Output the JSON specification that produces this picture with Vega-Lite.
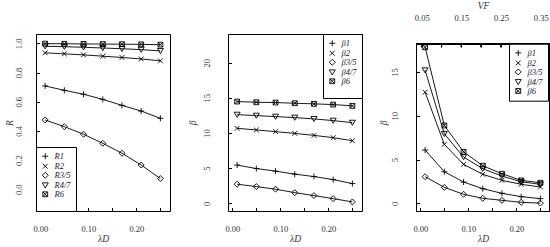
{
  "$schema": "https://vega.github.io/schema/vega-lite/v6.json",
  "padding": {"left": 4, "top": 0, "right": 0, "bottom": 0},
  "spacing": 15,
  "background": "white",
  "datasets": {
    "R": [
      {"series": "R1", "lambdaD": 0.01, "R": 0.708}, {"series": "R1", "lambdaD": 0.05, "R": 0.678}, {"series": "R1", "lambdaD": 0.09, "R": 0.651}, {"series": "R1", "lambdaD": 0.13, "R": 0.616}, {"series": "R1", "lambdaD": 0.17, "R": 0.575}, {"series": "R1", "lambdaD": 0.21, "R": 0.536}, {"series": "R1", "lambdaD": 0.25, "R": 0.486},
      {"series": "R2", "lambdaD": 0.01, "R": 0.935}, {"series": "R2", "lambdaD": 0.05, "R": 0.928}, {"series": "R2", "lambdaD": 0.09, "R": 0.921}, {"series": "R2", "lambdaD": 0.13, "R": 0.912}, {"series": "R2", "lambdaD": 0.17, "R": 0.903}, {"series": "R2", "lambdaD": 0.21, "R": 0.893}, {"series": "R2", "lambdaD": 0.25, "R": 0.88},
      {"series": "R3/5", "lambdaD": 0.01, "R": 0.475}, {"series": "R3/5", "lambdaD": 0.05, "R": 0.429}, {"series": "R3/5", "lambdaD": 0.09, "R": 0.377}, {"series": "R3/5", "lambdaD": 0.13, "R": 0.315}, {"series": "R3/5", "lambdaD": 0.17, "R": 0.247}, {"series": "R3/5", "lambdaD": 0.21, "R": 0.166}, {"series": "R3/5", "lambdaD": 0.25, "R": 0.073},
      {"series": "R4/7", "lambdaD": 0.01, "R": 0.98}, {"series": "R4/7", "lambdaD": 0.05, "R": 0.977}, {"series": "R4/7", "lambdaD": 0.09, "R": 0.973}, {"series": "R4/7", "lambdaD": 0.13, "R": 0.968}, {"series": "R4/7", "lambdaD": 0.17, "R": 0.963}, {"series": "R4/7", "lambdaD": 0.21, "R": 0.957}, {"series": "R4/7", "lambdaD": 0.25, "R": 0.948},
      {"series": "R6", "lambdaD": 0.01, "R": 0.998}, {"series": "R6", "lambdaD": 0.05, "R": 0.997}, {"series": "R6", "lambdaD": 0.09, "R": 0.996}, {"series": "R6", "lambdaD": 0.13, "R": 0.995}, {"series": "R6", "lambdaD": 0.17, "R": 0.994}, {"series": "R6", "lambdaD": 0.21, "R": 0.993}, {"series": "R6", "lambdaD": 0.25, "R": 0.991}
    ],
    "B2": [
      {"series": "β1", "lambdaD": 0.01, "beta": 5.43}, {"series": "β1", "lambdaD": 0.05, "beta": 4.94}, {"series": "β1", "lambdaD": 0.09, "beta": 4.57}, {"series": "β1", "lambdaD": 0.13, "beta": 4.14}, {"series": "β1", "lambdaD": 0.17, "beta": 3.8}, {"series": "β1", "lambdaD": 0.21, "beta": 3.37}, {"series": "β1", "lambdaD": 0.25, "beta": 2.8},
      {"series": "β2", "lambdaD": 0.01, "beta": 10.66}, {"series": "β2", "lambdaD": 0.05, "beta": 10.43}, {"series": "β2", "lambdaD": 0.09, "beta": 10.19}, {"series": "β2", "lambdaD": 0.13, "beta": 9.94}, {"series": "β2", "lambdaD": 0.17, "beta": 9.66}, {"series": "β2", "lambdaD": 0.21, "beta": 9.33}, {"series": "β2", "lambdaD": 0.25, "beta": 8.9},
      {"series": "β3/5", "lambdaD": 0.01, "beta": 2.71}, {"series": "β3/5", "lambdaD": 0.05, "beta": 2.37}, {"series": "β3/5", "lambdaD": 0.09, "beta": 2.0}, {"series": "β3/5", "lambdaD": 0.13, "beta": 1.51}, {"series": "β3/5", "lambdaD": 0.17, "beta": 1.09}, {"series": "β3/5", "lambdaD": 0.21, "beta": 0.66}, {"series": "β3/5", "lambdaD": 0.25, "beta": 0.19},
      {"series": "β4/7", "lambdaD": 0.01, "beta": 12.61}, {"series": "β4/7", "lambdaD": 0.05, "beta": 12.47}, {"series": "β4/7", "lambdaD": 0.09, "beta": 12.33}, {"series": "β4/7", "lambdaD": 0.13, "beta": 12.19}, {"series": "β4/7", "lambdaD": 0.17, "beta": 12.0}, {"series": "β4/7", "lambdaD": 0.21, "beta": 11.76}, {"series": "β4/7", "lambdaD": 0.25, "beta": 11.47},
      {"series": "β6", "lambdaD": 0.01, "beta": 14.47}, {"series": "β6", "lambdaD": 0.05, "beta": 14.37}, {"series": "β6", "lambdaD": 0.09, "beta": 14.33}, {"series": "β6", "lambdaD": 0.13, "beta": 14.23}, {"series": "β6", "lambdaD": 0.17, "beta": 14.14}, {"series": "β6", "lambdaD": 0.21, "beta": 14.04}, {"series": "β6", "lambdaD": 0.25, "beta": 13.86}
    ],
    "B3": [
      {"series": "β1", "lambdaD": 0.01, "VF": 0.05, "beta": 6.08}, {"series": "β1", "lambdaD": 0.05, "VF": 0.1, "beta": 3.6}, {"series": "β1", "lambdaD": 0.09, "VF": 0.15, "beta": 2.43}, {"series": "β1", "lambdaD": 0.13, "VF": 0.2, "beta": 1.67}, {"series": "β1", "lambdaD": 0.17, "VF": 0.25, "beta": 1.14}, {"series": "β1", "lambdaD": 0.21, "VF": 0.3, "beta": 0.76}, {"series": "β1", "lambdaD": 0.25, "VF": 0.35, "beta": 0.53},
      {"series": "β2", "lambdaD": 0.01, "VF": 0.05, "beta": 12.68}, {"series": "β2", "lambdaD": 0.05, "VF": 0.1, "beta": 6.73}, {"series": "β2", "lambdaD": 0.09, "VF": 0.15, "beta": 4.45}, {"series": "β2", "lambdaD": 0.13, "VF": 0.2, "beta": 3.31}, {"series": "β2", "lambdaD": 0.17, "VF": 0.25, "beta": 2.62}, {"series": "β2", "lambdaD": 0.21, "VF": 0.3, "beta": 2.17}, {"series": "β2", "lambdaD": 0.25, "VF": 0.35, "beta": 1.86},
      {"series": "β3/5", "lambdaD": 0.01, "VF": 0.05, "beta": 3.04}, {"series": "β3/5", "lambdaD": 0.05, "VF": 0.1, "beta": 1.82}, {"series": "β3/5", "lambdaD": 0.09, "VF": 0.15, "beta": 1.03}, {"series": "β3/5", "lambdaD": 0.13, "VF": 0.2, "beta": 0.57}, {"series": "β3/5", "lambdaD": 0.17, "VF": 0.25, "beta": 0.34}, {"series": "β3/5", "lambdaD": 0.21, "VF": 0.3, "beta": 0.11}, {"series": "β3/5", "lambdaD": 0.25, "VF": 0.35, "beta": 0.02},
      {"series": "β4/7", "lambdaD": 0.01, "VF": 0.05, "beta": 15.2}, {"series": "β4/7", "lambdaD": 0.05, "VF": 0.1, "beta": 7.94}, {"series": "β4/7", "lambdaD": 0.09, "VF": 0.15, "beta": 5.28}, {"series": "β4/7", "lambdaD": 0.13, "VF": 0.2, "beta": 3.95}, {"series": "β4/7", "lambdaD": 0.17, "VF": 0.25, "beta": 3.11}, {"series": "β4/7", "lambdaD": 0.21, "VF": 0.3, "beta": 2.46}, {"series": "β4/7", "lambdaD": 0.25, "VF": 0.35, "beta": 2.17},
      {"series": "β6", "lambdaD": 0.01, "VF": 0.05, "beta": 17.82}, {"series": "β6", "lambdaD": 0.05, "VF": 0.1, "beta": 8.89}, {"series": "β6", "lambdaD": 0.09, "VF": 0.15, "beta": 5.88}, {"series": "β6", "lambdaD": 0.13, "VF": 0.2, "beta": 4.29}, {"series": "β6", "lambdaD": 0.17, "VF": 0.25, "beta": 3.38}, {"series": "β6", "lambdaD": 0.21, "VF": 0.3, "beta": 2.62}, {"series": "β6", "lambdaD": 0.25, "VF": 0.35, "beta": 2.35}
    ]
  },
  "hconcat": [
    {
      "width": 134, "height": 177,
      "data": {"name": "R"},
      "encoding": {
        "x": {"field": "lambdaD", "type": "quantitative", "title": "λD", "scale": {"domain": [-0.009, 0.27], "nice": false, "zero": false},
              "axis": {"values": [0, 0.05, 0.1, 0.15, 0.2, 0.25], "format": ".2f", "labelOverlap": false, "labelExpr": "indexof(['0.00','0.10','0.20'], datum.label) >= 0 ? datum.label : ''"}},
        "y": {"field": "R", "type": "quantitative", "title": "R", "scale": {"domain": [-0.149, 1.064], "nice": false, "zero": false},
              "axis": {"values": [0, 0.2, 0.4, 0.6, 0.8, 1.0], "format": ".1f", "labelOverlap": false, "labelPadding": 16, "titlePadding": 0}}
      },
      "layer": [
        {"mark": {"type": "line", "color": "black", "strokeWidth": 0.9}, "encoding": {"detail": {"field": "series"}}},
        {
          "mark": {"type": "point", "filled": false, "color": "black", "strokeWidth": 0.9, "size": 36, "opacity": 1},
          "encoding": {
            "shape": {"field": "series", "type": "nominal",
              "scale": {"domain": ["R1", "R2", "R3/5", "R4/7", "R6"],
                        "range": ["M-1,0H1M0,-1V1", "M-0.8,-0.8L0.8,0.8M-0.8,0.8L0.8,-0.8", "M-1,0L0,-1L1,0L0,1Z", "M-1,-0.8L1,-0.8L0,0.9Z", "M-0.8,-0.8H0.8V0.8H-0.8ZM-0.8,-0.8L0.8,0.8M-0.8,0.8L0.8,-0.8"]},
              "legend": {"orient": "bottom-left", "title": " ", "titleOrient": "bottom", "titleFontSize": 7, "titlePadding": 0}}
          }
        }
      ]
    },
    {
      "width": 134, "height": 177,
      "data": {"name": "B2"},
      "encoding": {
        "x": {"field": "lambdaD", "type": "quantitative", "title": "λD", "scale": {"domain": [-0.009, 0.27], "nice": false, "zero": false},
              "axis": {"values": [0, 0.05, 0.1, 0.15, 0.2, 0.25], "format": ".2f", "labelOverlap": false, "labelExpr": "indexof(['0.00','0.10','0.20'], datum.label) >= 0 ? datum.label : ''"}},
        "y": {"field": "beta", "type": "quantitative", "title": "β", "scale": {"domain": [-1.1, 24.08], "nice": false, "zero": false},
              "axis": {"values": [0, 5, 10, 15, 20], "labelOverlap": false, "labelPadding": 20, "titlePadding": 5.5}}
      },
      "layer": [
        {"mark": {"type": "line", "color": "black", "strokeWidth": 0.9}, "encoding": {"detail": {"field": "series"}}},
        {
          "mark": {"type": "point", "filled": false, "color": "black", "strokeWidth": 0.9, "size": 36, "opacity": 1},
          "encoding": {
            "shape": {"field": "series", "type": "nominal",
              "scale": {"domain": ["β1", "β2", "β3/5", "β4/7", "β6"],
                        "range": ["M-1,0H1M0,-1V1", "M-0.8,-0.8L0.8,0.8M-0.8,0.8L0.8,-0.8", "M-1,0L0,-1L1,0L0,1Z", "M-1,-0.8L1,-0.8L0,0.9Z", "M-0.8,-0.8H0.8V0.8H-0.8ZM-0.8,-0.8L0.8,0.8M-0.8,0.8L0.8,-0.8"]},
              "legend": {"orient": "top-right", "title": " ", "titleOrient": "bottom", "titleFontSize": 7, "titlePadding": 0}}
          }
        }
      ]
    },
    {
      "width": 134, "height": 177,
      "view": {"stroke": null, "strokeWidth": 0},
      "data": {"name": "B3"},
      "layer": [
        {
          "encoding": {
            "x": {"field": "lambdaD", "type": "quantitative", "title": "λD", "scale": {"domain": [-0.009, 0.27], "nice": false, "zero": false},
                  "axis": {"orient": "bottom", "values": [0, 0.05, 0.1, 0.15, 0.2, 0.25], "format": ".2f", "labelOverlap": false, "labelExpr": "indexof(['0.00','0.10','0.20'], datum.label) >= 0 ? datum.label : ''"}},
            "y": {"field": "beta", "type": "quantitative", "title": "β", "scale": {"domain": [-0.88, 19.34], "nice": false, "zero": false},
                  "axis": {"values": [0, 5, 10, 15], "labelOverlap": false, "labelPadding": 20.3, "titlePadding": 1.8}}
          },
          "layer": [
            {"mark": {"type": "line", "color": "black", "strokeWidth": 0.9}, "encoding": {"detail": {"field": "series"}}},
            {
              "mark": {"type": "point", "filled": false, "color": "black", "strokeWidth": 0.9, "size": 36, "opacity": 1},
              "encoding": {
                "shape": {"field": "series", "type": "nominal",
                  "scale": {"domain": ["β1", "β2", "β3/5", "β4/7", "β6"],
                            "range": ["M-1,0H1M0,-1V1", "M-0.8,-0.8L0.8,0.8M-0.8,0.8L0.8,-0.8", "M-1,0L0,-1L1,0L0,1Z", "M-1,-0.8L1,-0.8L0,0.9Z", "M-0.8,-0.8H0.8V0.8H-0.8ZM-0.8,-0.8L0.8,0.8M-0.8,0.8L0.8,-0.8"]},
                  "legend": {"orient": "none", "legendX": 93, "legendY": 9.7, "title": null}}
              }
            }
          ]
        },
        {
          "encoding": {
            "x": {"field": "VF", "type": "quantitative", "title": "VF", "scale": {"domain": [0.0356, 0.3734], "nice": false, "zero": false},
                  "axis": {"orient": "top", "ticks": false, "values": [0.05, 0.15, 0.25, 0.35], "format": ".2f", "labelOverlap": false, "labelPadding": 11.6, "titlePadding": 3}}
          },
          "layer": [
            {
              "mark": {"type": "rect", "filled": false, "stroke": "black", "strokeWidth": 1, "fillOpacity": 0, "xOffset": 0.5, "yOffset": 0.5},
              "encoding": {
                "x": {"datum": 0.0356, "type": "quantitative"},
                "x2": {"datum": 0.3734},
                "y": {"datum": -0.88, "type": "quantitative", "scale": {"domain": [-0.88, 19.34], "nice": false, "zero": false}},
                "y2": {"datum": 18.23}
              }
            },
            {
              "mark": {"type": "rule", "color": "black", "strokeWidth": 1},
              "encoding": {
                "y": {"datum": 18.23, "type": "quantitative"},
                "y2": {"datum": 17.83}
              }
            }
          ]
        }
      ],
      "resolve": {"scale": {"x": "independent"}, "axis": {"x": "independent"}}
    }
  ],
  "resolve": {"scale": {"shape": "independent"}, "legend": {"shape": "independent"}},
  "config": {
    "font": "Liberation Serif",
    "view": {"stroke": "black", "strokeWidth": 1},
    "axis": {
      "grid": false, "domain": false, "tickSize": -3.5, "tickColor": "black", "tickWidth": 1,
      "labelFont": "Liberation Serif", "labelFontSize": 8.5, "labelColor": "#333", "labelOverlap": false, "labelFlush": false,
      "titleFont": "Liberation Serif", "titleFontStyle": "italic", "titleFontWeight": "normal", "titleFontSize": 9.5, "titleColor": "#333"
    },
    "axisX": {"labelPadding": 16.5, "titlePadding": 1},
    "axisY": {"labelAngle": -90, "labelAlign": "center", "labelBaseline": "bottom"},
    "legend": {
      "strokeColor": "black", "strokeWidth": 1, "fillColor": "white", "padding": 5, "offset": 0, "cornerRadius": 0,
      "labelFont": "Liberation Serif", "labelFontStyle": "italic", "labelFontSize": 8.5, "labelColor": "#223",
      "symbolStrokeColor": "black", "symbolFillColor": "transparent", "symbolStrokeWidth": 0.9, "symbolSize": 36,
      "rowPadding": -1, "labelOffset": 5
    }
  }
}
